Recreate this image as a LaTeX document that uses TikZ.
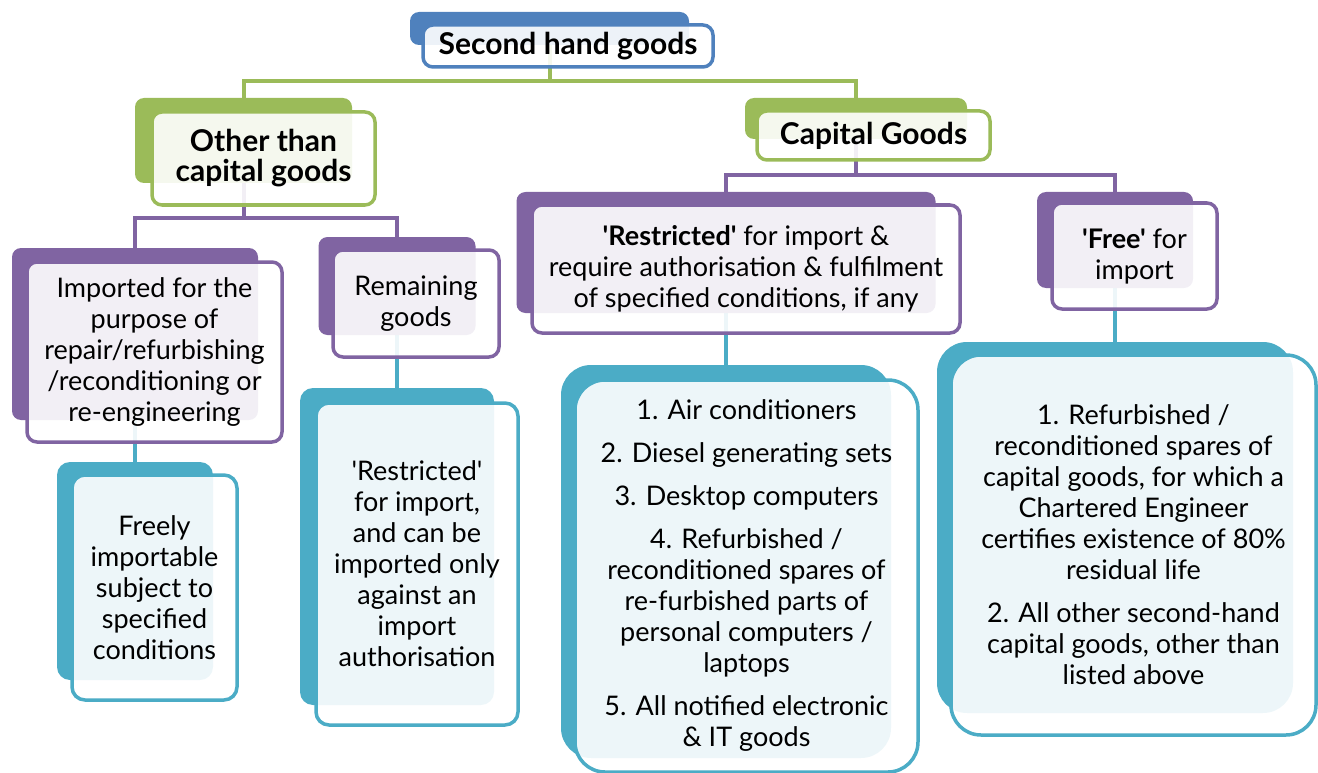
\documentclass[tikz,border=0pt]{standalone}
\usepackage{fontspec}
\setmainfont{Lato}[Ligatures=TeXOff]
\usetikzlibrary{backgrounds}
\definecolor{hdblue}{HTML}{4F81BD}
\definecolor{hdgreen}{HTML}{9BBB59}
\definecolor{hdpurple}{HTML}{8064A2}
\definecolor{hdteal}{HTML}{4BACC6}
\tikzset{
  back/.style={fill=#1, rounded corners=9pt, inner sep=0pt},
  front/.style={draw=#1, line width=3.5pt, fill=white, fill opacity=.9,
    text opacity=1, rounded corners=10pt, align=center, inner sep=0pt,
    font=\fontsize{27}{31}\selectfont},
  head/.style={font=\bfseries\fontsize{30}{30}\selectfont},
  link/.style={draw=#1, line width=4pt},
}

\begin{document}
\begin{tikzpicture}[x=1pt,y=-1pt]
  \useasboundingbox (0,0) rectangle (1318,773);
  % top level
  \node[back=hdblue, minimum width=279, minimum height=33] (top) at (549.5,28.5) {};
  \node[front=hdblue, head, minimum width=290, minimum height=42] (top-f) at (568,46) {Second hand goods};
  % second level
  \node[back=hdgreen, minimum width=217, minimum height=85] (oth) at (243.5,140.5) {};
  \node[front=hdgreen, head, minimum width=223, minimum height=93] (oth-f) at (263.5,158.5) {Other than\\capital goods};
  \node[back=hdgreen, minimum width=222, minimum height=41] (cap) at (856,118.5) {};
  \node[front=hdgreen, head, minimum width=233, minimum height=49] (cap-f) at (873.5,135.5) {Capital Goods};
  % third level
  \node[back=hdpurple, minimum width=246, minimum height=172] (imp) at (135,334) {};
  \node[front=hdpurple, minimum width=255, minimum height=180] (imp-f) at (154.5,352)
    {Imported for the\\purpose of\\repair/refurbishing\\/reconditioning or\\re-engineering};
  \node[back=hdpurple, minimum width=157, minimum height=98] (rem) at (397,286) {};
  \node[front=hdpurple, minimum width=166, minimum height=107] (rem-f) at (416,303.5) {Remaining\\goods};
  \node[back=hdpurple, minimum width=419, minimum height=121] (res) at (726,252.5) {};
  \node[front=hdpurple, minimum width=428, minimum height=128] (res-f) at (746,269)
    {\textbf{'Restricted'} for import \&\\require authorisation \& fulfilment\\of specified conditions, if any};
  \node[back=hdpurple, minimum width=156, minimum height=96] (fre) at (1115,240) {};
  \node[front=hdpurple, minimum width=165, minimum height=106] (fre-f) at (1134.5,256) {\textbf{'Free'} for\\import};
  % last level
  \node[back=hdteal, rounded corners=13pt, minimum width=156, minimum height=218] (frl) at (135,571) {};
  \node[front=hdteal, rounded corners=13pt, minimum width=165, minimum height=225] (frl-f) at (154.5,587.5)
    {Freely\\importable\\subject to\\specified\\conditions};
  \node[back=hdteal, rounded corners=13pt, minimum width=194, minimum height=317] (rsa) at (397,546.5) {};
  \node[front=hdteal, rounded corners=13pt, minimum width=202, minimum height=322] (rsa-f) at (417,564)
    {'Restricted'\\for import,\\and can be\\imported only\\against an\\import\\authorisation};
  \node[back=hdteal, rounded corners=30pt, minimum width=330, minimum height=393] (lst) at (726,561.5) {};
  \node[front=hdteal, rounded corners=30pt, minimum width=343, minimum height=392] (lst-f) at (746.5,576)
    {1. Air conditioners\\[12pt]2. Diesel generating sets\\[12pt]3. Desktop computers\\[12pt]4. Refurbished /\\reconditioned spares of\\re-furbished parts of\\personal computers /\\laptops\\[12pt]5. All notified electronic\\\& IT goods};
  \node[back=hdteal, rounded corners=30pt, minimum width=356, minimum height=371] (spr) at (1115,527.5) {};
  \node[front=hdteal, rounded corners=30pt, minimum width=365, minimum height=380] (spr-f) at (1133.5,545)
    {1. Refurbished /\\reconditioned spares of\\capital goods, for which a\\Chartered Engineer\\certifies existence of 80\%\\residual life\\[12pt]2. All other second-hand\\capital goods, other than\\listed above};
  % connectors, behind the boxes
  \coordinate (gj) at (0,81);
  \coordinate (pj) at (0,218);
  \coordinate (cj) at (0,175);
  \begin{scope}[on background layer]
    \draw[link=hdgreen] (top) -- (top |- gj) -| (oth);
    \draw[link=hdgreen] (top |- gj) -| (cap);
    \draw[link=hdpurple] (oth) -- (oth |- pj) -| (imp);
    \draw[link=hdpurple] (oth |- pj) -| (rem);
    \draw[link=hdpurple] (cap) -- (cap |- cj) -| (res);
    \draw[link=hdpurple] (cap |- cj) -| (fre);
    \draw[link=hdteal] (imp) -- (frl);
    \draw[link=hdteal] (rem) -- (rsa);
    \draw[link=hdteal] (res) -- (lst);
    \draw[link=hdteal] (fre) -- (spr);
  \end{scope}
\end{tikzpicture}
\end{document}
